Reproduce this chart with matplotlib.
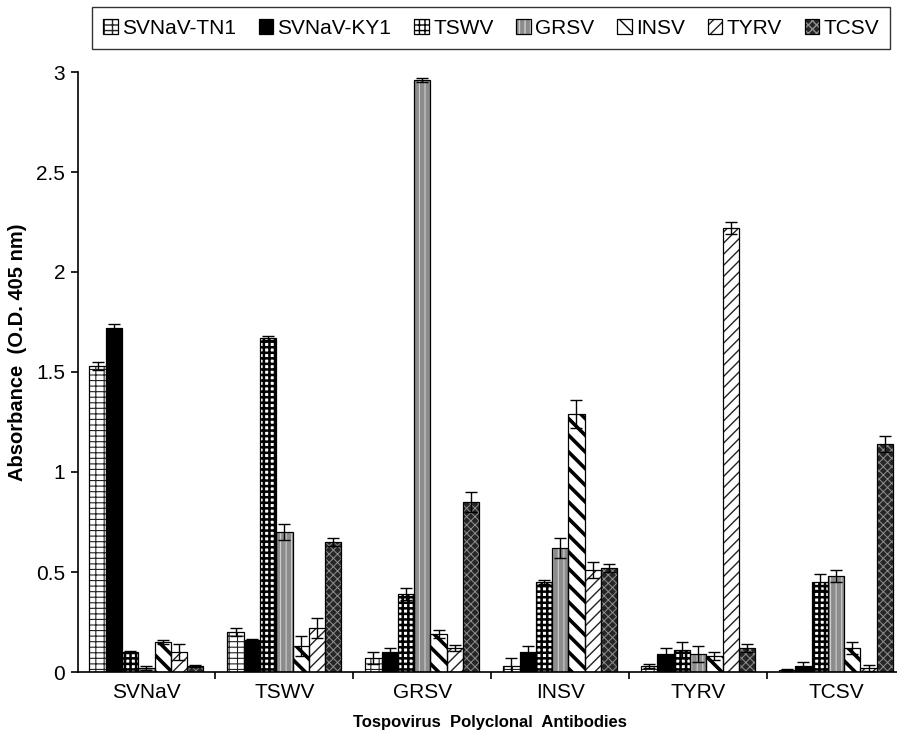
import matplotlib
matplotlib.use("Agg")
import matplotlib.pyplot as plt
from matplotlib.patches import Patch
from matplotlib.legend_handler import HandlerTuple
import numpy as np

categories = ["SVNaV", "TSWV", "GRSV", "INSV", "TYRV", "TCSV"]
series = ["SVNaV-TN1", "SVNaV-KY1", "TSWV", "GRSV", "INSV", "TYRV", "TCSV"]

tn1 = [1.53, 0.20, 0.07, 0.03, 0.03, 0.01]
ky1 = [1.72, 0.16, 0.10, 0.10, 0.09, 0.03]
tswv = [0.10, 1.67, 0.39, 0.45, 0.11, 0.45]
grsv = [0.02, 0.70, 2.96, 0.62, 0.09, 0.48]
insv = [0.15, 0.13, 0.19, 1.29, 0.08, 0.12]
tyrv = [0.10, 0.22, 0.12, 0.51, 2.22, 0.02]
tcsv = [0.03, 0.65, 0.85, 0.52, 0.12, 1.14]

tn1_err = [0.02, 0.02, 0.03, 0.04, 0.01, 0.005]
ky1_err = [0.02, 0.005, 0.02, 0.03, 0.03, 0.02]
tswv_err = [0.005, 0.01, 0.03, 0.01, 0.04, 0.04]
grsv_err = [0.01, 0.04, 0.01, 0.05, 0.04, 0.03]
insv_err = [0.01, 0.05, 0.02, 0.07, 0.02, 0.03]
tyrv_err = [0.04, 0.05, 0.015, 0.04, 0.03, 0.015]
tcsv_err = [0.005, 0.02, 0.05, 0.02, 0.02, 0.04]

values = [tn1, ky1, tswv, grsv, insv, tyrv, tcsv]
errors = [tn1_err, ky1_err, tswv_err, grsv_err, insv_err, tyrv_err, tcsv_err]

# (facecolor, hatchcolor, hatch, hatch linewidth)
styles = [
    ("white", "#222222", "---||", 0.8),
    ("black", "black", None, 1.0),
    ("white", "black", "+++", 1.8),
    ("#8c8c8c", "#cfcfcf", "|||", 0.8),
    ("white", "black", "\\\\", 2.6),
    ("white", "#222222", "///", 1.0),
    ("#262626", "#8f8f8f", "xxxx", 0.7),
]

plt.rcParams['font.family'] = ['Liberation Sans', 'DejaVu Sans']

fig = plt.figure(figsize=(8.97, 7.36), dpi=100)
ax = fig.add_axes([77.5 / 897, 1 - 672 / 736, (905 - 77.5) / 897, (672 - 72) / 736])

x = np.arange(len(categories))
nb = len(series)
bw = 0.118
handles = []
for i, (vals, errs, st) in enumerate(zip(values, errors, styles)):
    fc, hc, hatch, hlw = st
    pos = x - bw * (nb - 1) / 2 + i * bw
    with plt.rc_context({'hatch.linewidth': hlw}):
        ax.bar(pos, vals, bw, facecolor=fc, edgecolor=hc, hatch=hatch, linewidth=0, zorder=2)
        fill = Patch(facecolor=fc, edgecolor=hc, hatch=hatch, linewidth=0)
    ax.bar(pos, vals, bw, facecolor='none', edgecolor='black', linewidth=0.9, zorder=3)
    ax.errorbar(pos, vals, yerr=errs, fmt='none', ecolor='black', elinewidth=1.0,
                capsize=4, capthick=1.0, zorder=4)
    outline = Patch(facecolor='none', edgecolor='black', linewidth=0.9)
    handles.append((fill, outline))

ax.set_xlim(-0.5, len(categories) - 0.5)
ax.set_ylim(0, 3)
ax.set_yticks([0, 0.5, 1, 1.5, 2, 2.5, 3])
ax.set_yticklabels(["0", "0.5", "1", "1.5", "2", "2.5", "3"])
ax.set_xticks(x)
ax.set_xticklabels(categories)
ax.set_xticks(np.arange(len(categories)) + 0.5, minor=True)
ax.tick_params(axis='x', which='major', length=0, labelsize=15, pad=8)
ax.tick_params(axis='x', which='minor', length=5, direction='out', width=1.2)
ax.tick_params(axis='y', length=5, direction='out', labelsize=15, width=1.2, pad=4)
for s in ['top', 'right']:
    ax.spines[s].set_visible(False)
ax.spines['left'].set_linewidth(1.2)
ax.spines['bottom'].set_linewidth(1.2)

fig.text(18 / 897, 1 - 352 / 736, "Absorbance  (O.D. 405 nm)", rotation=90,
         ha='center', va='center', fontsize=14.5, fontweight='bold')
fig.text(490 / 897, 1 - 722 / 736, "Tospovirus  Polyclonal  Antibodies",
         ha='center', va='center', fontsize=12, fontweight='bold')

leg = fig.legend(handles, series, loc='center', bbox_to_anchor=(491 / 897, 1 - 28 / 736),
                 ncol=7, frameon=True, fontsize=15, handlelength=0.7, handleheight=0.7,
                 handletextpad=0.2, columnspacing=1.1, borderpad=0.55, fancybox=False,
                 handler_map={tuple: HandlerTuple(ndivide=1, pad=0)})
leg.get_frame().set_edgecolor('black')
leg.get_frame().set_linewidth(1.0)

fig.savefig("out.png", dpi=100)
